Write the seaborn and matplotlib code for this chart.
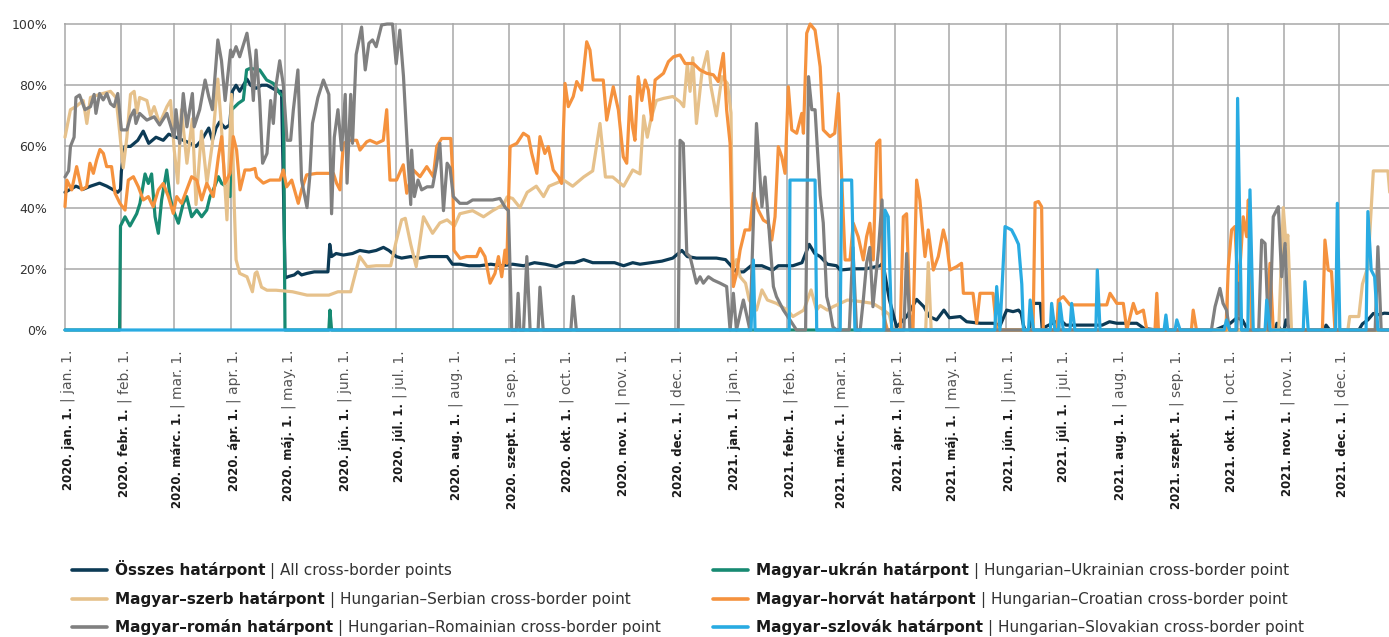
import pandas as pd
import matplotlib
matplotlib.use('Agg')
import matplotlib.pyplot as plt
import matplotlib.dates as mdates
from matplotlib.transforms import IdentityTransform
from matplotlib.lines import Line2D
import seaborn as sns

start = pd.Timestamp('2020-01-01')

# (day since 2020-01-01, share %)
osszes = [(0,45),(3,46),(6,47),(10,46),(14,47),(19,48),(23,47),(26,46),(29,45),(30.5,46),(31,52),(33,60),(36,60),(40,62),(43,65),(46,61),(50,63),(54,62),(57,64),(61,63),(65,62),(69,61),(72,60),(75,62),(79,66),(81,62),(83,66),(85,68),(88,66),(90.5,67),(92,78),(94,80),(96,78),(98,80),(100,82),(102,80),(105,79),(108,80),(111,80),(114,79),(117,78),(119,78),(121,17),(123,17.5),(126,18),(128,19),(130,18),(133,18.5),(137,19),(140,19),(144.5,19),(145.5,28),(146.5,24),(149,25),(153,24.5),(158,25),(162,26),(167,25.5),(171,26),(175,27),(178,26),(182,24),(185,23.5),(190,24),(195,23.5),(200,24),(205,24),(210,24),(213,21.5),(217,21.5),(222,21),(228,21),(234,21.5),(240,21),(246,21.5),(252,21),(258,22),(264,21.5),(270,20.7),(275,22),(280,22),(285,23),(290,22),(296,22),(302,22),(307,21),(312,22),(316,21.5),(322,22),(328,22.5),(334,23.5),(339,26),(342,24),(347,23.5),(352,23.5),(358,23.5),(363,23),(366,21),(369,19),(373,19),(377,21),(383,21),(387,20),(389,19.6),(392,21),(400,21),(405,22),(409,28),(412,25),(415,24),(419,21.5),(424,21),(426,19.6),(433,20),(440,20),(448,21),(449.5,22),(451.5,15),(453,10),(457,1),(462.5,4.4),(468,10),(472,7.6),(475,4.4),(479,3.3),(483,6.5),(486,4),(492,4.4),(495.5,2.7),(503,2.2),(510,2.2),(514,1.6),(517.5,6.5),(521,6),(524,6.5),(525.5,5.4),(526.5,2),(527.5,0),(530,0),(532,8.7),(536,8.7),(537,0.5),(542,2),(547,3.3),(550,1.6),(560,1.6),(570,1.6),(574,2.7),(578,2.2),(589,2.2),(593,0.5),(600,0),(632,0),(640,2),(644,4),(647,3.3),(650,0),(665,0),(666,2.2),(668,0),(670,0),(671,3.3),(673,0),(692,0),(693,1.6),(695,0),(711,0),(713,2),(716,3.3),(719,5.4),(722,5),(725,5.5),(728,5.4)]

szerb = [(0,63),(3,72),(6,73),(10,75),(12,67.5),(14,76),(19,77),(25,78),(28,76),(30,65),(32,53),(34,63),(36,77),(38,78),(39.5,71),(41,76),(45,75),(47,70),(49,73),(52,67.5),(56,73),(58,75),(60,59),(62,48),(64,72),(67,54.5),(70,69),(72,41),(75,65),(78,48),(81,61),(84,82),(86,66),(89,36),(91.5,77),(93,41),(94,23),(96,18.5),(100,17.4),(103,12.5),(104.5,18.5),(105.5,19),(108,14),(111,13),(116,13),(125,12.5),(133,11.4),(145,11.4),(150,12.5),(157,12.5),(158.5,16),(162,24),(166,20.7),(171,21),(179,21),(182,29),(185,36),(187,36.5),(190,28),(193,20.7),(197,37),(202,31.6),(206,35),(210,36),(214,34),(217,38),(224,39),(230,37),(235,39),(241,41),(243,43.5),(246,43),(250,40),(254,45),(259,47),(263,43.6),(266,47),(274,49),(279,47),(285,50),(290,52),(294,67.5),(297,50),(301,50),(307,47),(312,52.3),(316,51),(318,70),(320,63),(322,69),(325,75),(329,75.7),(334,76.3),(338,74.6),(340,73),(342,87),(343.5,78),(345,89),(347,67.5),(350,84),(353,91),(355,79.5),(358,70),(361,82.8),(364,80.6),(366,71),(367,19.6),(369,23),(371,17.4),(374,15.3),(376,9.8),(380,6.5),(383,13.1),(386,9.8),(391,8.7),(397,6.5),(400,4.4),(406,6.5),(410,13.1),(413,6.5),(415,8),(419,6.5),(422,7.6),(430,9.8),(437,9.3),(444,8.7),(450,6.5),(453,5),(455,0),(473,0),(474.4,22),(476,0),(667,0),(669.5,40),(671,28),(672,31),(674,0),(705,0),(706,4.4),(711,4.4),(713,15),(716,20.7),(719,52),(727,52),(728,45)]

roman = [(0,50),(2,52),(3,60),(5,63),(6,76),(8,76.8),(11,72),(14,73),(16,77),(17,70.8),(19,77.3),(21,75.2),(23,77.3),(25,74),(27,73),(29,77.3),(31,65.4),(34,65.4),(36,69.7),(38,71.9),(39,67.5),(41,70.8),(45,68.6),(49,69.7),(52,67),(56,70.8),(60,63),(61,72),(63,61),(65,77.3),(67,66.4),(70,77.3),(71,66.4),(74,72),(77,81.7),(79,76.3),(81,72),(84,94.8),(86,88),(88,75),(91,91.5),(92,89.3),(94,92.6),(96,89.3),(100,97),(102,88.2),(103.5,75),(105,91.5),(107,75),(108.6,54.5),(111,57.7),(113,75),(114.5,67.5),(116,80),(118,88),(120,80),(122,62),(124,62),(125.5,72),(128,85),(130,49),(133,40),(134.5,50),(136,67.5),(139,76),(142,81.7),(145,77),(146.5,38),(148,63),(150,72),(152,58.8),(154,77),(155,48),(157,77),(158,61),(160,90),(163,99),(165,85),(167,93.7),(169,94.8),(171,92.6),(174,99.7),(177,100),(180,100),(182,87),(184,98),(186,83),(188,61),(190,41),(190.5,58.8),(192,43.6),(194,49),(196,45.8),(199,46.8),(202,46.8),(204,53.4),(206,61),(208,39),(210,54.5),(211.6,53),(213.4,43.6),(217,41.4),(221,41.4),(224,42.5),(230,42.5),(235,42.5),(239,43),(242,40),(243.7,39),(245.5,0),(248,0),(249,12),(250,0),(252,0),(253.8,24),(255.6,0),(260,0),(261,14),(262.8,0),(278,0),(279.3,11),(281,0),(337,0),(338,62),(339.8,61),(341.7,25),(343.5,24),(345.3,19.6),(347,15.3),(349,17.4),(350.8,15.3),(353.6,17.4),(356.3,16.3),(360,15.3),(363.6,14.2),(365.5,0),(367.3,12),(369,0),(372.8,9.8),(376.4,0),(380,67.5),(383,40.3),(384.7,50),(387.5,28),(389.3,14.2),(391,10.9),(394.8,6.5),(398.4,3.3),(402,0),(407,0),(408.6,82.8),(410.4,72),(412.2,72),(415,44),(416.7,35),(418.6,10.9),(420.4,6.5),(422,1),(424,0),(431,0),(433,27),(435,0),(437,0),(438.7,9.8),(440.5,21.8),(442.3,27),(444,7.6),(447,26),(449,42.5),(450.6,0),(461,0),(462.5,25),(464.3,0),(630,0),(632,7.6),(634.7,13.6),(636.4,8.7),(638.3,6.5),(640,0),(644,0),(644.8,15.3),(646.6,0),(656,0),(657.6,29.4),(659.5,28.3),(661.3,0),(662,0),(664,37),(666.8,40.3),(668.6,17.4),(670.5,28.3),(672.3,0),(720,0),(721.5,27.2),(723.3,0),(728,0)]

ukran = [(0,0),(30,0),(30.5,34),(33,37),(35.7,34),(39.4,38),(41.2,41.4),(44,51),(45.8,47.9),(47.6,51),(49.5,37),(51.3,31.6),(53.1,42.5),(55.9,52.3),(57.7,43.6),(59.5,39.2),(62.3,34.9),(65,41.4),(66.9,43.6),(69.6,37),(72.4,39.2),(75.1,37),(77.9,39.2),(79.7,43.6),(81.5,45.8),(84.3,50.1),(86.1,47.9),(88.8,46.8),(90.7,43.6),(91.6,72),(93.4,73),(95.3,74.1),(98,75.2),(99.8,85),(101.7,85.5),(107,85),(110.8,81.7),(114.5,80.6),(118.1,77.3),(120,76.3),(120.9,0),(145,0),(145.6,6.5),(146.5,0),(728,0)]

horvat = [(0,40.3),(1,49),(3.7,45.8),(6.4,53.4),(9.2,45.8),(11.9,46.8),(13.7,54.5),(15.6,51.2),(17.4,55.6),(19.2,59),(21.1,57.7),(22.9,53.4),(25.6,53.4),(27.5,44.7),(30.2,41.4),(33,39.2),(34.8,49),(37.6,50.1),(40.3,46.8),(43,42.5),(45.8,43.6),(48.5,40.3),(51.3,45.8),(54,47.9),(56.8,43.6),(59.5,38.1),(61.4,43.6),(64.1,41.4),(66.9,45.8),(69.6,50.1),(72.4,49),(75.1,42.5),(77.9,47.9),(81.5,43.6),(84.3,56.6),(86.1,63.2),(87.9,47.9),(90.7,51.2),(92.5,63.2),(94.3,58.8),(96.2,45.8),(98.9,52.3),(101.7,52.3),(104.4,52.8),(105.3,50),(109,48),(112.6,49),(118.1,49),(120,52.3),(121.8,46.8),(124.6,49),(128.2,41.4),(130,45.8),(132.8,50.7),(138.3,51.2),(144.7,51.2),(147.5,51.2),(149.3,47.9),(151.1,45.8),(153,61),(156.6,62),(160.3,62),(162.1,58.8),(165.8,61.5),(167.6,62),(171.3,61),(174.9,62),(176.8,72),(178.6,49),(182.2,49),(185.9,54),(187.8,44.7),(191.4,52.3),(195.1,50.1),(198.8,53.4),(202.4,50.1),(204.3,60),(207,62.6),(212,62.6),(213,52),(213.8,26),(217.1,23.4),(220.7,24),(226.2,24),(228.1,26.7),(230.8,24),(233.6,15.3),(236.3,18.5),(238.2,24),(240,17.4),(241.8,26.1),(242.8,21.8),(244.6,59.9),(248.3,61),(251.9,64.3),(254.7,63.2),(256.5,57.7),(259.3,51.2),(261,63.2),(263.7,57.7),(265.6,59.9),(268.3,52.3),(271.1,50.1),(272.9,47.9),(274.8,80.6),(276.6,73),(279.3,76.3),(281.2,81.2),(283.9,78.4),(286.7,94.2),(288.5,91.5),(290.3,81.7),(295.8,81.7),(297.7,68.6),(301.3,79.5),(304.1,71.9),(306.8,56.6),(308.7,54.5),(310.5,76.3),(312,66),(313.2,62),(315,82.8),(317,75),(318.8,81.7),(320.6,78.4),(322.4,68.6),(324.3,81.7),(328.9,83.9),(331.6,87.7),(334.4,89.3),(338,89.9),(340.8,87.1),(345.3,87.1),(349,85),(352.6,83.9),(356.3,83.4),(359,81.2),(361.8,90.4),(363.6,71.9),(365.5,61),(367.3,14.2),(369.1,18.5),(371,26.1),(373.7,32.7),(376.4,32.7),(378.3,44.7),(381,39.2),(383.8,35.9),(386.5,34.9),(388.4,29.4),(390.2,37),(392,59.9),(393.9,56.6),(395.7,51.2),(397.5,79.5),(399.4,65.4),(402.1,64.3),(404.9,70.8),(405.8,64.3),(407.6,97),(409.5,100),(412.2,98),(415,86),(416.7,65.4),(420.4,63.2),(423,64.3),(425,77.3),(426.8,50.1),(428.7,22.9),(431.4,22.9),(433.2,34.9),(435.9,30.5),(438.7,22.9),(440.5,30.5),(442.3,34.9),(444.2,22.9),(446,61),(447.8,62.1),(449.7,5),(452,0),(459,0),(460.7,37),(462.5,38),(464.3,5),(466,0),(468,49),(469.8,42.5),(472.6,24),(474.4,32.7),(477.2,19.6),(479.9,24),(482.7,32.7),(484.5,28.3),(486.3,19.6),(490,20.7),(492.7,21.8),(493.7,12),(499,12),(501,2.2),(502.8,12),(510,12),(512,0),(532,0),(533.1,41.6),(535,42),(536.7,40.3),(537.6,0),(545,0),(545.9,9.8),(548.6,10.9),(552.3,8.2),(555.9,8.2),(565,8.2),(572.5,8.2),(574.3,12),(578,8.7),(581.6,8.7),(583.5,0),(587.1,8.7),(589,5.4),(592.6,6.5),(594.5,0),(599,0),(600,12),(600.9,0),(619,0),(620,6.5),(621.8,0),(638,0),(639.3,20.7),(641.1,32.7),(642.9,33.8),(644.8,12),(647.5,37),(649.4,30.5),(650.3,42.5),(652.1,0),(660,0),(662.2,21.8),(664,0),(691,0),(692.4,29.4),(694.2,19.6),(696,19.1),(697.9,0),(728,0)]

szlovak = [(0,0),(377,0),(378.3,22.9),(379.2,0),(398,0),(398.4,49),(412.2,49),(413.1,0),(426,0),(426.8,49),(432.3,49),(434.1,0),(450,0),(450.6,39.2),(452.4,37),(454.3,0),(511,0),(512,14.2),(513.8,0),(516.6,33.8),(520.2,32.7),(522.1,30.5),(524,28),(525.8,15),(526.7,0),(529.5,0),(530.4,9.8),(532.2,0),(541.5,0),(542.2,8.7),(544,0),(546,0),(546.8,8.7),(548.6,0),(552.3,0),(553.2,8.7),(555,0),(566.5,0),(567.3,19.6),(568.8,0),(604,0),(605,4.9),(606,0),(610,0),(611,3.3),(612.8,0),(637,0),(638.3,3.3),(640.1,0),(643.5,0),(644.4,75.7),(646.6,0),(650,0),(651.2,45.8),(653,0),(659.5,0),(660.4,9.8),(662.2,0),(680.5,0),(681.4,15.8),(683.2,0),(698.3,0),(699.2,41.4),(700.6,0),(715,0),(716,38.7),(717.8,19.6),(719.7,17.4),(721.5,0),(728,0)]

# legend texts
names_hu = ['Összes határpont', 'Magyar–szerb határpont', 'Magyar–román határpont',
            'Magyar–ukrán határpont', 'Magyar–horvát határpont', 'Magyar–szlovák határpont']
names_en = ['All cross-border points', 'Hungarian–Serbian cross-border point',
            'Hungarian–Romainian cross-border point', 'Hungarian–Ukrainian cross-border point',
            'Hungarian–Croatian cross-border point', 'Hungarian–Slovakian cross-border point']
colors = ['#0c3a55', '#e6c18b', '#808080', '#178a72', '#f5923e', '#29abe2']
series_data = [osszes, szerb, roman, ukran, horvat, szlovak]

# x tick labels
month_hu = ['jan.', 'febr.', 'márc.', 'ápr.', 'máj.', 'jún.', 'júl.', 'aug.', 'szept.', 'okt.', 'nov.', 'dec.']
month_en = ['jan.', 'feb.', 'mar.', 'apr.', 'may.', 'jun.', 'jul.', 'aug.', 'sep.', 'oct.', 'nov.', 'dec.']

frames = []
for name, pts in zip(names_hu, series_data):
    d, v = zip(*pts)
    frames.append(pd.DataFrame({'date': start + pd.to_timedelta(list(d), unit='D'),
                                'share': v, 'series': name}))
df = pd.concat(frames, ignore_index=True)

sns.set_theme(style='white')
plt.rcParams['font.family'] = ['DejaVu Sans']

W, H = 1389, 637
fig = plt.figure(figsize=(W / 100, H / 100), dpi=100)
ax = fig.add_axes([63.9 / W, (H - 330) / H, (W - 63.9) / W, 307.5 / H])

# drawing order: navy, teal, tan, orange, gray, blue on top
order = [0, 3, 1, 4, 2, 5]
for z, i in enumerate(order):
    sns.lineplot(data=df[df['series'] == names_hu[i]], x='date', y='share',
                 color=colors[i], lw=2.3, estimator=None, ax=ax,
                 clip_on=False, zorder=3 + z)

ax.set_xlim(start - pd.Timedelta(days=0.6), start + pd.Timedelta(days=727.6))
ax.set_ylim(0, 100.5)
month_starts = pd.date_range('2020-01-01', '2021-12-01', freq='MS')
ax.set_xticks(month_starts)
ax.set_yticks(range(0, 101, 20))
ax.set_yticklabels([f'{v}%' for v in range(0, 101, 20)])
ax.tick_params(axis='x', length=0, labelbottom=False)
ax.tick_params(axis='y', length=0, pad=12, labelsize=9, labelcolor='#333333')
ax.grid(True, color='#a8a8a8', lw=1.1)
ax.set_axisbelow(True)
ax.set_xlabel('')
ax.set_ylabel('')
for s in ax.spines.values():
    s.set_visible(False)

fig.canvas.draw()
renderer = fig.canvas.get_renderer()
pix = IdentityTransform()

# two-part rotated month labels
for k, d in enumerate(month_starts):
    xp = ax.transData.transform((mdates.date2num(d), 0))[0] + 7
    m = d.month - 1
    t_en = fig.text(xp, H - 350, f'| {month_en[m]} 1.', rotation=90, rotation_mode='anchor',
                    ha='right', va='baseline', fontsize=10, color='#555555', transform=pix)
    bb = t_en.get_window_extent(renderer)
    fig.text(xp, bb.y0 - 5, f'{d.year}. {month_hu[m]} 1.', rotation=90, rotation_mode='anchor',
             ha='right', va='baseline', fontsize=8.5, fontweight='bold', color='#1a1a1a',
             transform=pix)

# legend drawn by hand (bold Hungarian + regular English)
leg_x = [72, 72, 72, 713, 713, 713]
leg_y = [570, 599, 627, 570, 599, 627]
for i in range(6):
    x0, y0 = leg_x[i], H - leg_y[i]
    fig.add_artist(Line2D([x0, x0 + 35], [y0, y0], color=colors[i], lw=2.6,
                          solid_capstyle='round', transform=pix))
    tb = fig.text(x0 + 43, y0 - 5, names_hu[i], fontsize=11, fontweight='bold',
                  color='#1a1a1a', va='baseline', transform=pix)
    bb = tb.get_window_extent(renderer)
    fig.text(bb.x1 + 5, y0 - 5, '| ' + names_en[i], fontsize=11, color='#333333',
             va='baseline', transform=pix)

fig.savefig('out.png', dpi=100)
